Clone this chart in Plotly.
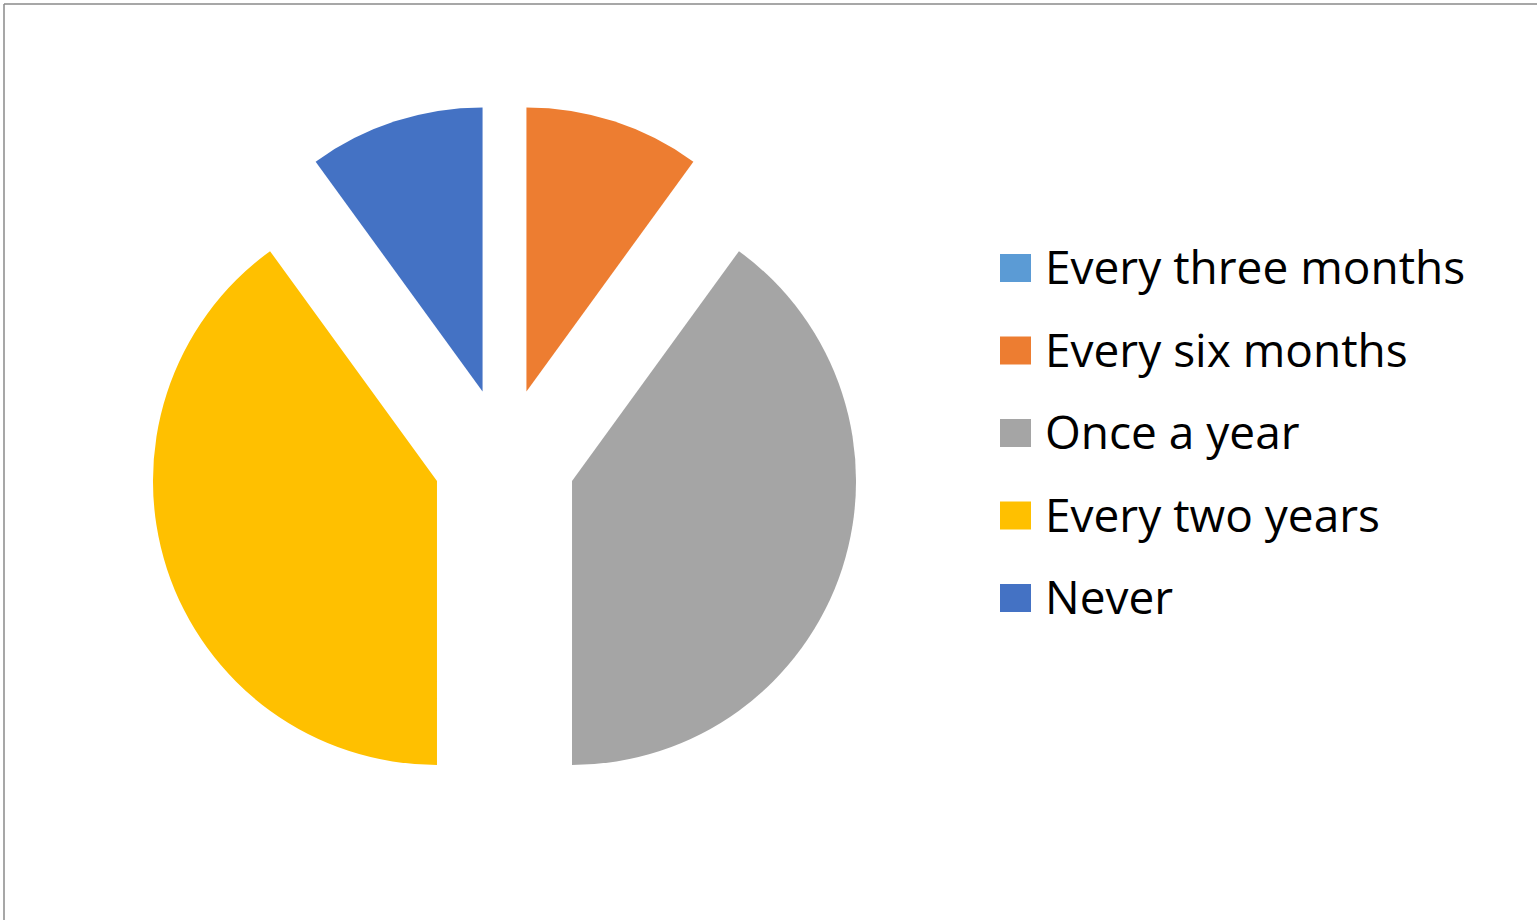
import plotly.graph_objects as go

# ---- data ----
labels = ["Every three months", "Every six months", "Once a year", "Every two years", "Never"]
values = [0, 1, 4, 4, 1]
colors = ["#5B9BD5", "#ED7D31", "#A5A5A5", "#FFC000", "#4472C4"]

W, H = 1537, 920

def px_x(x):
    return x / W

def px_y(y):
    return 1 - y / H

cx, cy = 504.5, 459
half = 355

fig = go.Figure()
fig.add_trace(go.Pie(
    labels=labels,
    values=values,
    marker=dict(colors=colors, line=dict(width=0)),
    sort=False,
    direction="clockwise",
    rotation=0,
    pull=[0.25] * len(values),
    textinfo="none",
    showlegend=False,
    domain=dict(x=[px_x(cx - half), px_x(cx + half)],
                y=[px_y(cy + half), px_y(cy - half)]),
))

shapes = [
    dict(type="line", xref="paper", yref="paper", x0=px_x(4), x1=1.0, y0=px_y(4), y1=px_y(4),
         line=dict(color="#8a8a8a", width=1.5)),
    dict(type="line", xref="paper", yref="paper", x0=px_x(4), x1=px_x(4), y0=0, y1=px_y(4),
         line=dict(color="#8a8a8a", width=1.5)),
]
annotations = []
row0, step = 268, 82.5
for i, (lab, col) in enumerate(zip(labels, colors)):
    yc = row0 + i * step
    shapes.append(dict(type="rect", xref="paper", yref="paper",
                       x0=px_x(1000), x1=px_x(1031), y0=px_y(yc + 14), y1=px_y(yc - 14),
                       fillcolor=col, line=dict(width=0)))
    annotations.append(dict(text=lab, xref="paper", yref="paper", x=px_x(1043), y=px_y(yc - 2),
                            xanchor="left", yanchor="middle", showarrow=False,
                            font=dict(family="Open Sans", size=46, color="#000000")))

fig.update_layout(
    width=W, height=H,
    margin=dict(l=0, r=0, t=0, b=0),
    paper_bgcolor="white",
    plot_bgcolor="white",
    shapes=shapes,
    annotations=annotations,
)

fig.write_html("out.html", config={"displayModeBar": False},
               post_script="document.body.style.margin='0';document.body.style.overflow='hidden';")
